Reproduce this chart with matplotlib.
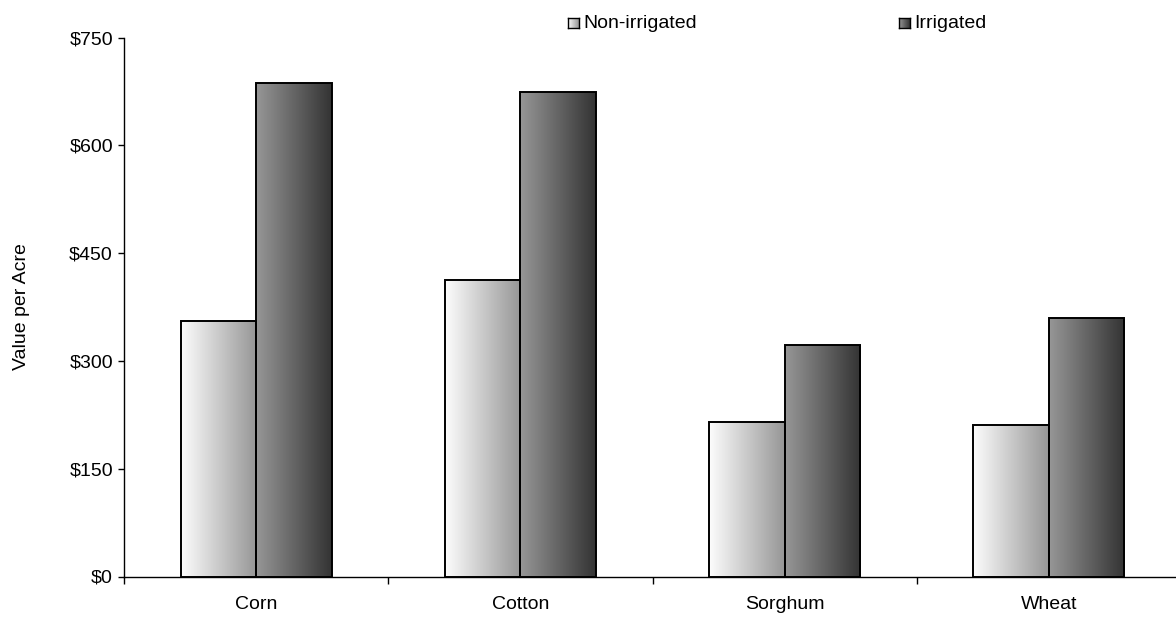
import matplotlib.pyplot as plt
from matplotlib.colors import LinearSegmentedColormap
import numpy as np

# Data
crops = ["Corn", "Cotton", "Sorghum", "Wheat"]
non_irrigated = [356, 412, 215, 211]
irrigated = [686, 674, 322, 359]
series_names = ["Non-irrigated", "Irrigated"]
y_ticks = [0, 150, 300, 450, 600, 750]

plt.rcParams["font.family"] = ["Liberation Sans", "DejaVu Sans"]
FS = 14

# Gradients (left -> right)
cmap_non = LinearSegmentedColormap.from_list("non", ["#fdfdfd", "#969696"])
cmap_irr = LinearSegmentedColormap.from_list("irr", ["#979797", "#333333"])
grad = np.linspace(0, 1, 256).reshape(1, -1)

fig = plt.figure(figsize=(11.76, 6.17), dpi=100)
ax = fig.add_axes([124 / 1176, 40.5 / 617, 1057 / 1176, 539 / 617])

x = np.arange(len(crops))
w = 0.286


def gradient_bars(xpos, vals, cmap):
    bars = ax.bar(xpos, vals, width=w, facecolor="none", edgecolor="black",
                  linewidth=1.4, zorder=3)
    for b in bars:
        x0, y0 = b.get_x(), b.get_y()
        im = ax.imshow(grad, cmap=cmap, aspect="auto", zorder=2,
                       extent=[x0, x0 + b.get_width(), y0, y0 + b.get_height()])
        im.set_clip_path(b)
    return bars


gradient_bars(x - w / 2, non_irrigated, cmap_non)
gradient_bars(x + w / 2, irrigated, cmap_irr)

ax.set_xlim(-0.5, len(crops) - 0.5)
ax.set_ylim(0, 750)

# Axes styling
for s in ["top", "right"]:
    ax.spines[s].set_visible(False)
ax.spines["left"].set_linewidth(1.0)
ax.spines["bottom"].set_linewidth(1.0)

ax.set_yticks(y_ticks)
ax.set_yticklabels([f"${v}" for v in y_ticks])
ax.tick_params(axis="y", direction="out", length=4, width=1, pad=4, labelsize=FS)

ax.set_xticks(np.arange(-0.5, len(crops), 1.0))
ax.set_xticklabels([])
ax.tick_params(axis="x", which="major", direction="out", length=5, width=1)
ax.set_xticks(x, minor=True)
ax.set_xticklabels(crops, minor=True)
ax.tick_params(axis="x", which="minor", length=0, pad=14, labelsize=FS)

ax.set_ylabel("Value per Acre", fontsize=FS)
ax.yaxis.set_label_coords(-(124 - 30) / 1057, 0.5)

# Legend: small gradient squares + labels
leg_items = [(568, cmap_non, series_names[0]), (899, cmap_irr, series_names[1])]
for px, cm, label in leg_items:
    lax = fig.add_axes([px / 1176, (617 - 28) / 617, 11 / 1176, 10 / 617])
    lax.imshow(grad, cmap=cm, aspect="auto")
    lax.set_xticks([])
    lax.set_yticks([])
    for sp in lax.spines.values():
        sp.set_linewidth(1.0)
    fig.text((px + 15) / 1176, (617 - 23) / 617, label, fontsize=FS,
             va="center", ha="left")

plt.savefig("out.png", dpi=100)
